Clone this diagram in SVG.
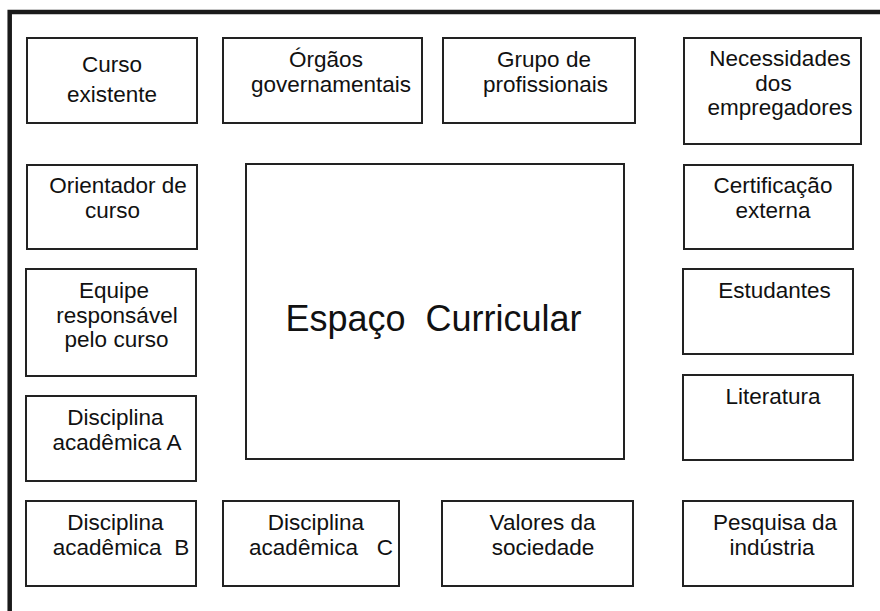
<svg xmlns="http://www.w3.org/2000/svg" width="880" height="611" viewBox="0 0 880 611">
<style>
.box{fill:#fff;stroke:#222;stroke-width:2}
.t{font-family:"Liberation Sans",Arial,sans-serif;font-size:22.5px;fill:#111;text-anchor:middle}
.big{font-family:"Liberation Sans",Arial,sans-serif;font-size:36px;fill:#111;text-anchor:middle;white-space:pre}
.frame{stroke:#1a1a1a;stroke-width:4.5;fill:none}
</style>
<rect width="880" height="611" fill="#fff"/>
<path class="frame" d="M9.7 611 V12 H880"/>
<g id="connectors"></g>
<g id="n-curso"><rect class="box" x="27" y="38" width="170" height="85"/><text class="t" x="112" y="72">Curso</text><text class="t" x="112" y="102">existente</text></g>
<g id="n-orgaos"><rect class="box" x="223" y="38" width="199" height="85"/><text class="t" x="326" y="67">Órgãos</text><text class="t" x="331" y="92">governamentais</text></g>
<g id="n-grupo"><rect class="box" x="443" y="38" width="192" height="85"/><text class="t" x="544" y="67">Grupo de</text><text class="t" x="545.5" y="92">profissionais</text></g>
<g id="n-necessidades"><rect class="box" x="684" y="38" width="177" height="106"/><text class="t" x="780" y="66">Necessidades</text><text class="t" x="773.5" y="90.5">dos</text><text class="t" x="780" y="115">empregadores</text></g>
<g id="n-orientador"><rect class="box" x="27" y="165" width="170" height="84"/><text class="t" x="118" y="193">Orientador de</text><text class="t" x="112.5" y="218">curso</text></g>
<g id="n-certificacao"><rect class="box" x="684" y="165" width="169" height="84"/><text class="t" x="773" y="193">Certificação</text><text class="t" x="773" y="218">externa</text></g>
<g id="n-espaco"><rect class="box" x="246" y="164" width="378" height="295"/><text class="big" x="433.5" y="331">Espaço  Curricular</text></g>
<g id="n-equipe"><rect class="box" x="26" y="269" width="170" height="107"/><text class="t" x="114" y="298">Equipe</text><text class="t" x="117" y="322.5">responsável</text><text class="t" x="116.5" y="347">pelo curso</text></g>
<g id="n-estudantes"><rect class="box" x="683" y="269" width="170" height="85"/><text class="t" x="774.5" y="298">Estudantes</text></g>
<g id="n-literatura"><rect class="box" x="683" y="375" width="170" height="85"/><text class="t" x="773" y="404">Literatura</text></g>
<g id="n-discA"><rect class="box" x="26" y="396" width="170" height="85"/><text class="t" x="115.5" y="425">Disciplina</text><text class="t" x="117" y="450">acadêmica A</text></g>
<g id="n-discB"><rect class="box" x="26" y="501" width="170" height="85"/><text class="t" x="115.5" y="530">Disciplina</text><text class="t" x="121" y="555" style="white-space:pre">acadêmica  B</text></g>
<g id="n-discC"><rect class="box" x="223" y="501" width="176" height="85"/><text class="t" x="316" y="530">Disciplina</text><text class="t" x="321" y="555" style="white-space:pre">acadêmica   C</text></g>
<g id="n-valores"><rect class="box" x="442" y="501" width="191" height="85"/><text class="t" x="542.5" y="530">Valores da</text><text class="t" x="543" y="555">sociedade</text></g>
<g id="n-pesquisa"><rect class="box" x="683" y="501" width="170" height="85"/><text class="t" x="775" y="530">Pesquisa da</text><text class="t" x="772" y="555">indústria</text></g>
</svg>
